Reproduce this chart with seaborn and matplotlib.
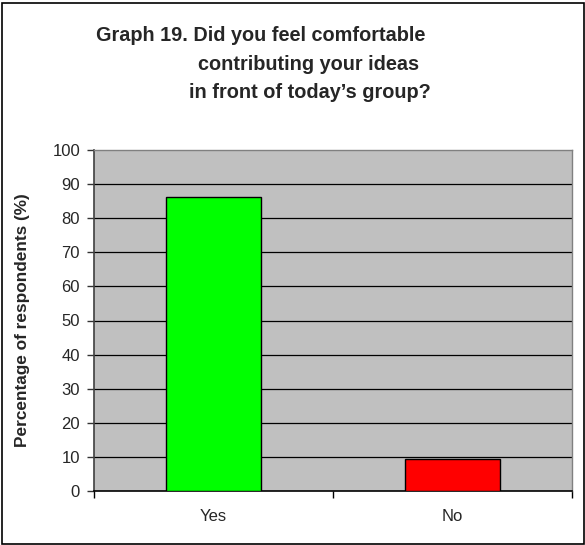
import matplotlib
matplotlib.use("Agg")
import matplotlib.pyplot as plt
import seaborn as sns
import pandas as pd
from matplotlib.patches import Rectangle

# data
answers = ["Yes", "No"]
percentages = [86.3, 9.4]
bar_colors = ["#00FF00", "#FF0000"]
y_ticks = [0, 10, 20, 30, 40, 50, 60, 70, 80, 90, 100]
title_lines = [
    "Graph 19. Did you feel comfortable",
    "contributing your ideas",
    "in front of today\u2019s group?",
]

sns.set_style("white")
plt.rcParams["font.family"] = ["Liberation Sans", "DejaVu Sans"]

df = pd.DataFrame({"answer": answers, "pct": percentages})

fig = plt.figure(figsize=(5.85, 5.45), dpi=100)
ax = fig.add_axes([94 / 585, 54 / 545, 478 / 585, 341 / 545])
ax.set_facecolor("#C0C0C0")

sns.barplot(data=df, x="answer", y="pct", hue="answer", palette=bar_colors,
            width=0.4, edgecolor="black", linewidth=1.0, saturation=1,
            legend=False, ax=ax, zorder=3)

ax.set_xlim(-0.5, 1.5)
ax.set_ylim(0, 100)
ax.set_yticks(y_ticks)
for v in y_ticks[1:-1]:
    ax.axhline(v, color="black", linewidth=0.9, zorder=1)

ax.set_xticks([-0.5, 0.5, 1.5], minor=True)
ax.tick_params(axis="x", which="major", length=0, pad=13, labelsize=12)
ax.tick_params(axis="x", which="minor", length=5, width=1, color="black",
               direction="out", bottom=True)
ax.tick_params(axis="y", length=5, width=1, color="#333333", direction="out",
               pad=5, labelsize=12, left=True)

for side in ["top", "right"]:
    ax.spines[side].set_color("#808080")
    ax.spines[side].set_linewidth(1)
ax.spines["left"].set_color("#404040")
ax.spines["bottom"].set_color("black")
ax.spines["left"].set_linewidth(1.2)
ax.spines["bottom"].set_linewidth(1.2)

ax.set_xlabel("")
ax.set_ylabel("Percentage of respondents (%)", fontsize=12.4, fontweight="bold")
ax.yaxis.set_label_coords(-0.134, 0.5)

title_x = [261 / 585, 309 / 585, 310 / 585]
title_y = [35, 65, 93]
for line, tx, ty in zip(title_lines, title_x, title_y):
    fig.text(tx, 1 - ty / 545, line, ha="center", va="center",
             fontsize=14.3, fontweight="bold")

fig.patches.append(Rectangle((1.5 / 585, 1.5 / 545), 582.5 / 585, 541 / 545,
                             transform=fig.transFigure, fill=False,
                             edgecolor="black", linewidth=1.2))

fig.savefig("out.png", dpi=100)
